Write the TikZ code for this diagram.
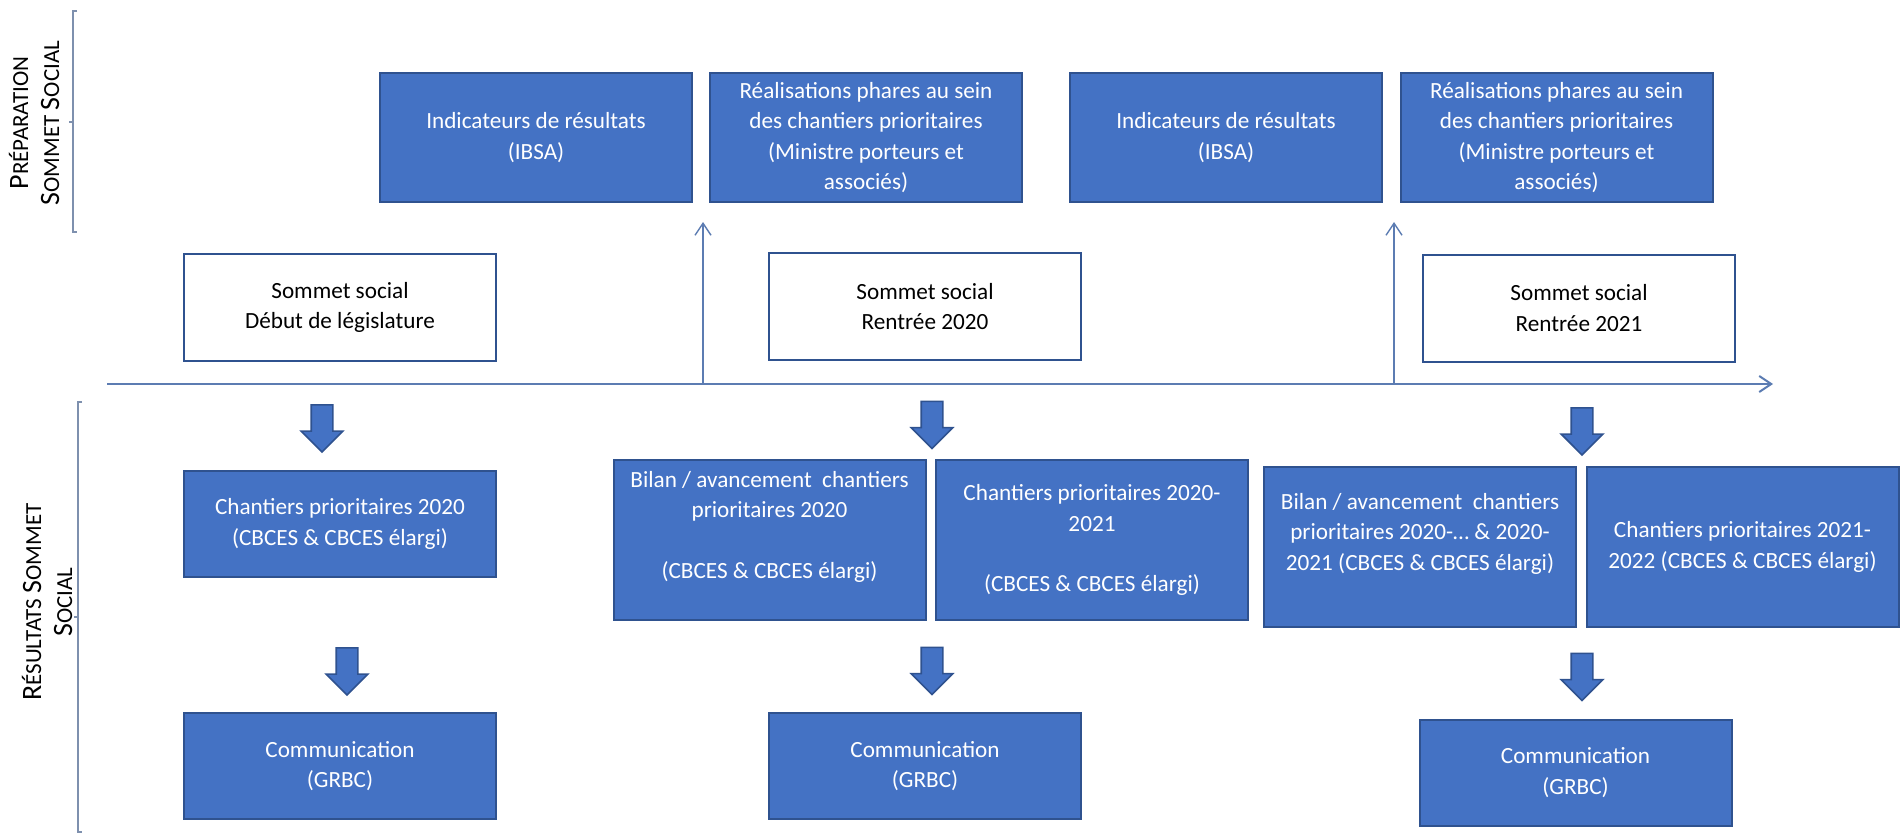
\documentclass[tikz,border=0pt]{standalone}
\usepackage{fontspec}
\setmainfont{Carlito}
\usepackage{tikz}
\usetikzlibrary{arrows.meta,shapes.arrows}
\definecolor{boxblue}{RGB}{68,114,196}
\definecolor{edgeblue}{RGB}{47,82,143}
\definecolor{axisblue}{RGB}{92,124,178}
\definecolor{bracegray}{RGB}{126,144,174}
\newcommand{\fakesc}[2]{{\fontsize{14}{15.5}\selectfont #1}{\fontsize{11.5}{15.5}\selectfont #2}}

\begin{document}
\begin{tikzpicture}[x=0.5pt,y=-0.5pt,>={Straight Barb[length=6pt,width=8pt]}]
  \tikzset{
    box/.style={rectangle,draw=edgeblue,line width=1pt,minimum width=156pt,inner sep=2pt,align=center,font=\fontsize{11.6}{15.3}\selectfont},
    task/.style={box,fill=boxblue,text=white,minimum height=64.5pt},
    summit/.style={box,fill=white,text=black,minimum height=53.5pt},
    result/.style={box,fill=boxblue,text=white,minimum height=53pt},
    review/.style={box,fill=boxblue,text=white,minimum height=80pt},
    push/.style={single arrow,rotate=-90,fill=boxblue,draw=edgeblue,line width=0.8pt,inner xsep=0pt,inner ysep=5pt,
                 minimum height=23.5pt,single arrow head extend=5pt,single arrow head indent=0pt},
    axis/.style={draw=axisblue,line width=1pt},
    riser/.style={draw=axisblue,line width=0.7pt},
    brace/.style={draw=bracegray,line width=0.8pt},
    side/.style={rotate=90,align=center,inner sep=0pt,font=\fontsize{11.5}{15.5}\selectfont},
  }
  \useasboundingbox (0,0) rectangle (1904,835);

  \coordinate (t0) at (107,384); \coordinate (t1) at (1773,384);
  \coordinate (u1) at (703,384); \coordinate (w1) at (703,222);
  \coordinate (u2) at (1394,384); \coordinate (w2) at (1394,222);

  \draw[brace] (77,11) -- (73,11) -- (73,232) -- (77,232) (73,122) -- (69,122);
  \draw[brace] (82,402) -- (78,402) -- (78,832) -- (82,832) (78,617) -- (74,617);
  \node[side] (prep) at (34,123) {\fakesc{P}{RÉPARATION}\\\fakesc{S}{OMMET} \fakesc{S}{OCIAL}};
  \node[side] (res) at (47,602) {\fakesc{R}{ÉSULTATS} \fakesc{S}{OMMET}\\\fakesc{S}{OCIAL}};

  \node[task] (ind1) at (536,137.5) {Indicateurs de résultats\\(IBSA)};
  \node[task] (real1) at (866,137.5) {Réalisations phares au sein\\des chantiers prioritaires\\(Ministre porteurs et\\associés)};
  \node[task] (ind2) at (1226,137.5) {Indicateurs de résultats\\(IBSA)};
  \node[task] (real2) at (1556.5,137.5) {Réalisations phares au sein\\des chantiers prioritaires\\(Ministre porteurs et\\associés)};

  \node[summit] (som1) at (340,307.5) {Sommet social\\Début de législature};
  \node[summit] (som2) at (925,306.5) {Sommet social\\Rentrée 2020};
  \node[summit] (som3) at (1579,308) {Sommet social\\Rentrée 2021};

  \draw[axis,->] (t0) -- (t1);
  \draw[riser,->] (u1) -- (w1);
  \draw[riser,->] (u2) -- (w2);

  \node[result] (ch1) at (340,524) {Chantiers prioritaires 2020\\(CBCES \& CBCES élargi)};
  \node[result] (com1) at (340,766) {Communication\\(GRBC)};
  \node[review] (bil2) at (769.5,540) {Bilan / avancement~ chantiers\\prioritaires 2020\\[15pt](CBCES \& CBCES élargi)\\~};
  \node[review] (ch2) at (1092,540) {Chantiers prioritaires 2020-\\2021\\[15pt](CBCES \& CBCES élargi)};
  \node[result] (com2) at (925,766) {Communication\\(GRBC)};
  \node[review] (bil3) at (1420,547) {Bilan / avancement~ chantiers\\prioritaires 2020-… \& 2020-\\2021 (CBCES \& CBCES élargi)\\~};
  \node[review] (ch3) at (1742.5,547) {Chantiers prioritaires 2021-\\2022 (CBCES \& CBCES élargi)};
  \node[result] (com3) at (1575.5,772.5) {Communication\\(GRBC)};

  \node[push] (p1) at (322,423) {}; \node[push] (q1) at (347,666) {};
  \node[push] (p2) at (932,419.5) {}; \node[push] (q2) at (932,665.5) {};
  \node[push] (p3) at (1582,426) {}; \node[push] (q3) at (1582,671.5) {};
\end{tikzpicture}
\end{document}
